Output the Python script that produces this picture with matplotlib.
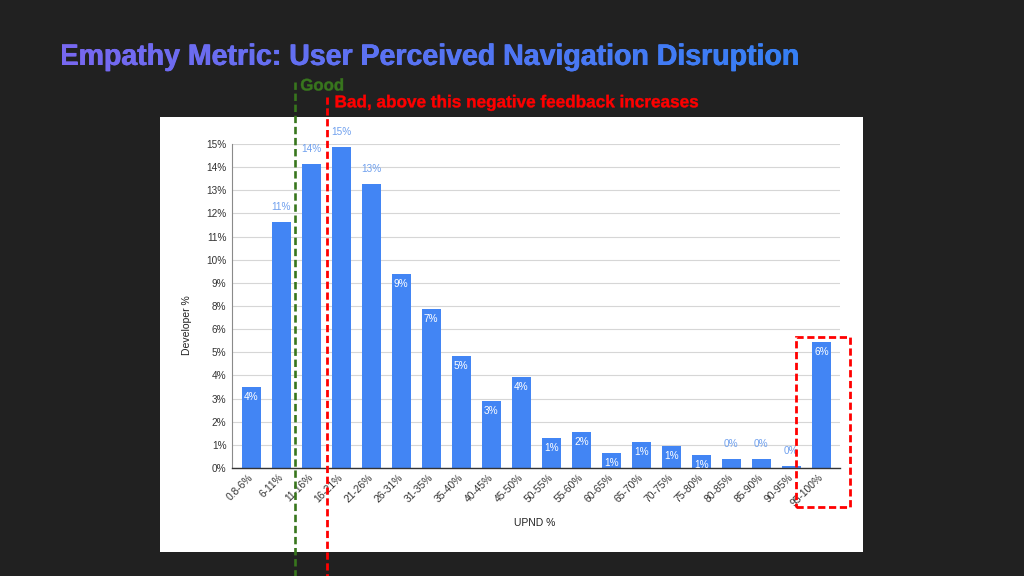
import numpy as np
import matplotlib
matplotlib.use("Agg")
import matplotlib.pyplot as plt
from matplotlib.textpath import TextPath
from matplotlib.patches import PathPatch, Rectangle
from matplotlib.font_manager import FontProperties
from matplotlib.transforms import Affine2D, blended_transform_factory
from matplotlib.colors import to_rgb

plt.rcParams['font.family'] = ['Liberation Sans', 'DejaVu Sans']

# data (in %)
categories = ['0.8-6%', '6-11%', '11-16%', '16-21%', '21-26%', '26-31%', '31-35%',
              '35-40%', '40-45%', '45-50%', '50-55%', '55-60%', '60-65%', '65-70%',
              '70-75%', '75-80%', '80-85%', '85-90%', '90-95%', '95-100%']
developer_pct = [3.76, 11.37, 14.06, 14.88, 13.13, 8.97, 7.36, 5.17, 3.10, 4.21,
                 1.39, 1.65, 0.69, 1.20, 1.03, 0.62, 0.40, 0.40, 0.09, 5.82]
y_max = 15
title = 'Empathy Metric: User Perceived Navigation Disruption'
good_text = 'Good'
bad_text = 'Bad, above this negative feedback increases'

W, H = 1024, 576
BAR = '#4285f4'

fig = plt.figure(figsize=(W / 100, H / 100), dpi=100, facecolor='#212121')


def px(x, y):
    return x / W, 1 - y / H


# background layer in pixel coords (white panel + title)
bg = fig.add_axes([0, 0, 1, 1], zorder=-1)
bg.set_xlim(0, W)
bg.set_ylim(0, H)
bg.axis('off')
bg.add_patch(Rectangle((160, H - 551.7), 702.7, 435, color='white', lw=0))

bold = FontProperties(family='Liberation Sans', weight='bold')
cap_unit = TextPath((0, 0), 'E', size=1, prop=bold).get_extents().height


def text_path(s, x0, x1, base, cap=None):
    tp = TextPath((0, 0), s, size=1, prop=bold)
    ext = tp.get_extents()
    sx = (x1 - x0) / (ext.x1 - ext.x0)
    sy = cap / cap_unit if cap else sx
    tr = (Affine2D().translate(-ext.x0, 0).scale(sx, sy)
          .translate(x0, H - base))
    return tr.transform_path(tp)


# gradient title (drawn a few times with sub-pixel shifts to make it heavier)
tpath = text_path(title, 61.5, 797.5, 65, 20.5)
c0, c1 = np.array(to_rgb('#7868f0')), np.array(to_rgb('#3680f5'))
t = np.linspace(0, 1, 256)[None, :, None]
grad = c0 * (1 - t) + c1 * t
for dx in (-0.45, 0, 0.45):
    p = Affine2D().translate(dx, 0).transform_path(tpath)
    patch = PathPatch(p, fc='none', ec='none', transform=bg.transData)
    bg.add_patch(patch)
    img = bg.imshow(grad, extent=(61.7, 798, H - 75, H - 40), aspect='auto',
                    interpolation='bilinear', zorder=2)
    img.set_clip_path(patch)
bg.set_xlim(0, W)
bg.set_ylim(0, H)

bg.add_patch(PathPatch(text_path(good_text, 301, 343, 90.5),
                       fc='#38761d', ec='#38761d', lw=0.3))
bg.add_patch(PathPatch(text_path(bad_text, 335.7, 698, 107.3),
                       fc='#ff0000', ec='#ff0000', lw=0.3))

# chart
ax = fig.add_axes([232 / W, 1 - 468 / H, 608 / W, 324 / H])
ax.set_facecolor('white')
x = np.arange(len(categories))
ax.bar(x, developer_pct, width=0.633, color=BAR, zorder=2)
ax.set_xlim(-0.64, 19.62)
ax.set_ylim(0, y_max)

yt = np.linspace(0, y_max, 15)
ax.set_yticks(yt)
ax.set_yticklabels([f'{round(v)}%' for v in yt])
ax.yaxis.grid(True, color='#d6d6d6', lw=0.8)
ax.set_axisbelow(True)
for s in ['top', 'right']:
    ax.spines[s].set_visible(False)
ax.spines['left'].set_color('#8a8a8a')
ax.spines['left'].set_linewidth(0.8)
ax.spines['bottom'].set_color('#333333')
ax.spines['bottom'].set_linewidth(1)
ax.tick_params(axis='y', length=0, labelsize=7.2, labelcolor='#333333', pad=4)
ax.tick_params(axis='x', length=0, labelsize=7.4, labelcolor='#333333', pad=5.5)
ax.set_xticks(x)
ax.set_xticklabels(categories)
plt.setp(ax.get_xticklabels(), rotation=45, ha='right', va='center',
         rotation_mode='anchor')

# data labels
for i, v in enumerate(developer_pct):
    lab = f'{round(v)}%'
    if v > 10 or v < 0.5:
        ax.annotate(lab, (i, v), xytext=(0, 10.8), textcoords='offset points',
                    ha='center', va='center', fontsize=7.2, color='#6fa0ee')
    else:
        ax.annotate(lab, (i, v), xytext=(0, -7.2), textcoords='offset points',
                    ha='center', va='center', fontsize=7.2, color='white')

fig.text(*px(187, 325), 'Developer %', rotation=90, ha='center', va='center',
         fontsize=7.5, color='#222222')
fig.text(*px(535, 523), 'UPND %', ha='center', va='center',
         fontsize=7.5, color='#222222')

# threshold lines between categories
blend = blended_transform_factory(ax.transData, fig.transFigure)
ax.plot([1.46, 1.46], [1 - 82 / H, 0], transform=blend, clip_on=False,
        color='#38761d', lw=1.9, ls=(0, (2.8, 1.4)), zorder=5)
ax.plot([2.52, 2.52], [1 - 97 / H, 0], transform=blend, clip_on=False,
        color='#ff0000', lw=2.0, ls=(0, (2.6, 1.3)), zorder=5)

# dashed box around the last category
last = len(categories) - 1
ax.add_patch(Rectangle((last - 0.85, -1.8), 1.81, developer_pct[-1] + 0.23 + 1.8,
                       fill=False, ec='#ff0000', lw=2, ls=(0, (2.6, 1.3)),
                       clip_on=False, zorder=5))

fig.savefig('out.png', dpi=100, facecolor=fig.get_facecolor())
